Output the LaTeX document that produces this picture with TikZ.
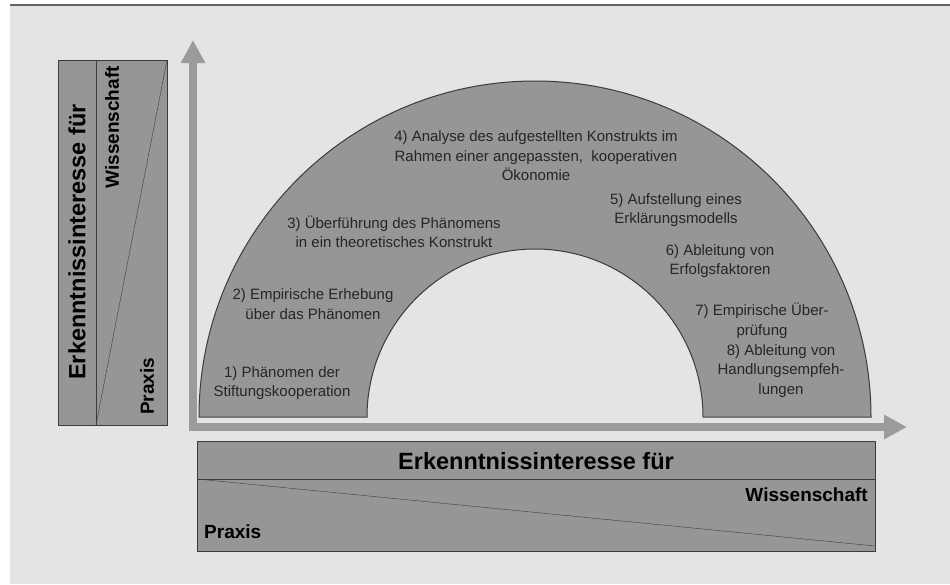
\documentclass[tikz,border=0pt]{standalone}
\usepackage{fontspec}
\setmainfont{Liberation Sans}
\usetikzlibrary{arrows.meta}
\definecolor{bggray}{HTML}{E4E4E4}
\definecolor{boxgray}{HTML}{969696}
\definecolor{axisgray}{HTML}{9B9B9B}
\definecolor{edgegray}{HTML}{3C3C3C}

\begin{document}
\begin{tikzpicture}[x=1pt, y=-1pt,
    panel/.style = {draw=edgegray, fill=boxgray, line width=1pt},
    axis/.style = {draw=axisgray, line width=8pt, line cap=rect,
                   -{Triangle[length=23pt, width=23pt]}},
    stage/.style = {align=center, font=\fontsize{15}{19.5}\selectfont,
                    text=black!85, inner sep=0pt},
    title/.style = {font=\fontsize{23.5}{28}\selectfont\bfseries, inner sep=0pt},
    pole/.style = {font=\fontsize{19}{22}\selectfont\bfseries, inner sep=0pt}
  ]
  \useasboundingbox (0,0) rectangle (950,584);
  \fill[white] (0,0) rectangle (950,584);
  \fill[bggray] (10,5) rectangle (950,584);
  \draw[edgegray!80, line width=2pt] (10,5) -- (950,5);

  % axes
  \coordinate (origin) at (193,427);
  \coordinate (ytip) at (193,40);
  \coordinate (xtip) at (907,427);
  \draw[axis] (origin) -- (ytip);
  \draw[axis] (origin) -- (xtip);

  % half ring
  \draw[panel] (199,417) arc[start angle=180, end angle=0, radius=336pt]
    -- (703,417) arc[start angle=0, end angle=180, radius=168pt] -- cycle;

  \node[stage] (s1) at (282,383) {1) Phänomen der\\Stiftungskooperation};
  \node[stage] (s2) at (313,304) {2) Empirische Erhebung\\über das Phänomen};
  \node[stage] (s3) at (394,232) {3) Überführung des Phänomens\\in ein theoretisches Konstrukt};
  \node[stage] (s4) at (536,156) {4) Analyse des aufgestellten Konstrukts im\\Rahmen einer angepassten,\ \ kooperativen\\Ökonomie};
  \node[stage] (s5) at (676,210) {5) Aufstellung eines\\Erklärungsmodells};
  \node[stage] (s6) at (720,261) {6) Ableitung von\\Erfolgsfaktoren};
  \node[stage] (s7) at (762,321) {7) Empirische Über-\\prüfung};
  \node[stage] (s8) at (781,371) {8) Ableitung von\\Handlungsempfeh-\\lungen};

  % left box
  \draw[panel] (58,60) rectangle (167,425);
  \draw[edgegray] (96,60) -- (96,425);
  \draw[edgegray] (96,425) -- (167,60);
  \node[title, rotate=90] (ltitle) at (77,242) {Erkenntnissinteresse für};
  \node[pole, rotate=90, anchor=east] (lwiss) at (112,66) {Wissenschaft};
  \node[pole, rotate=90, anchor=west] (lpraxis) at (147,415) {Praxis};

  % bottom box
  \draw[panel] (197,441) rectangle (875,551);
  \draw[edgegray] (197,479) -- (875,479);
  \draw[edgegray] (197,479) -- (875,546);
  \node[title] (btitle) at (536,461) {Erkenntnissinteresse für};
  \node[pole, anchor=east] (bwiss) at (868,495) {Wissenschaft};
  \node[pole, anchor=west] (bpraxis) at (204,532) {Praxis};
\end{tikzpicture}
\end{document}
